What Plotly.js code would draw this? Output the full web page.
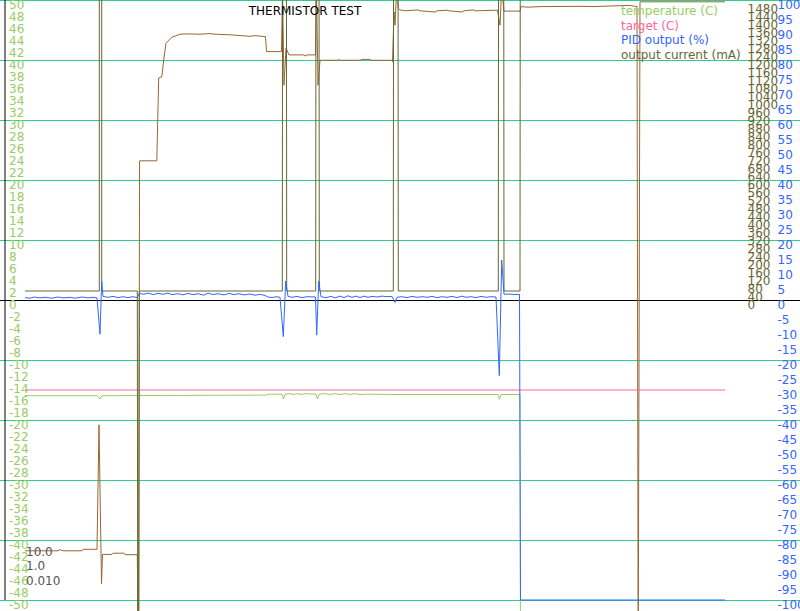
<!DOCTYPE html>
<html>
<head>
<meta charset="utf-8">
<script src="https://cdn.plot.ly/plotly-3.0.1.min.js"></script>
<style>
html,body{margin:0;padding:0;background:#fff;overflow:hidden;width:800px;height:611px;position:relative;}
#chart{position:absolute;left:0;top:-10px;width:820px;height:631px;}
</style>
</head>
<body>
<div id="chart"></div>
<script>
// ---- data (time in s) ----
var tempTime   = [0,25,27,72,75,77,112,114,241,243,257,258.5,260,265,268,272,276,280,291,292.5,294,300,305,310,315,320,325,330,335,340,350,370,372,400,473,474.5,476,495,495.5];
var tempValues = [-15.95,-15.9,-15.95,-15.95,-16.5,-15.95,-15.95,-15.85,-15.85,-15.7,-15.7,-16.5,-15.7,-15.6,-15.75,-15.6,-15.75,-15.6,-15.7,-16.5,-15.7,-15.6,-15.75,-15.6,-15.75,-15.6,-15.75,-15.6,-15.75,-15.7,-15.75,-15.85,-15.75,-15.75,-15.75,-16.55,-15.75,-15.75,-60];

var targetTime   = [0,700];
var targetValues = [-15,-15];

var sensorTime   = [0,33,35,38,57,58,72,74,76.5,77.5,87,88,99,100,112.3,113.4,114.6,131.8,133.7,136.8,138.7,141,147,155,162,175,185,190,205,220,225,230,240.5,241.5,256.5,257.5,259,261,264,279,280,282,290.5,291.5,293,295,313,314,315,335,337,345,346,367,367.5,369,370,371.7,373.3,375,380,393,395,410,412,422,424,437,439,448,450,472.5,475,476.7,479,495,496,503,512,515,557,568,604,612,613.2,615,700];
var sensorValues = [-41.8,-41.8,-41.6,-41.8,-41.8,-41.55,-41.55,-20.8,-47.3,-42.4,-42.4,-42.2,-42.2,-42.45,-42.45,-60,23.2,23.2,37.0,37.2,40.0,42.8,43.8,44.3,44.35,44.3,44.4,44.3,44.2,44.1,43.95,44.05,43.9,41.4,41.4,52,35.8,42.0,40.85,40.85,40.65,40.85,40.85,52,35.8,39.95,39.95,40.1,39.95,39.95,40.1,40.1,39.95,39.95,39.7,48.0,45.8,52,48.6,48.35,48.2,48.35,48.2,48.0,48.2,48.3,48.2,48.0,48.2,48.35,48.2,48.3,45.8,52,48.15,48.15,48.9,48.8,48.8,48.9,48.95,48.9,49.1,48.9,-60,49.7,49.7];

var pidTime   = [0,5,9,15,20,27,33,38,45,50,57,63,68,72,75,76.7,78,83,88,93,98,103,108,112,114.5,119,123,128,133,138,143,147,153,158,163,168,173,179,183,188,193,199,204,209,214,219,225,230,235,240,243,247,251,255,258.3,260.7,263,267,272,277,282,287,290.5,291.7,293.7,296,301,306,310,315,319,323,327,331,335,339,343,347,352,357,362,367,370,372,377,382,387,392,397,402,407,412,417,422,427,432,437,441,446,451,456,461,466,471,474.3,476.7,479,484,489,494.5,495.5,700];
var pidValues = [0.8,0.6,1.0,0.7,0.9,0.6,1.0,0.7,0.9,0.6,1.0,0.7,0.9,0.7,-11.4,6.3,1.2,0.9,1.2,0.8,1.1,0.8,1.1,0.8,2.2,1.9,2.3,1.8,2.2,1.9,2.3,1.8,2.1,1.7,2.2,1.8,2.1,1.6,2.3,1.8,2.1,1.7,2.2,1.8,2.1,1.7,2.0,1.6,1.9,1.5,1.0,0.8,1.1,0.9,-12.2,6.3,1.2,0.9,1.2,0.8,1.1,0.9,1.0,-11.7,6.3,1.1,0.8,1.2,0.7,1.3,0.8,1.4,0.9,1.3,0.8,1.3,0.9,1.2,1.0,1.3,1.1,1.2,-0.8,0.9,1.1,0.8,1.2,0.9,1.1,0.9,1.2,0.8,1.1,0.9,1.2,0.8,1.3,0.9,1.1,0.8,1.2,0.9,1.1,1.0,-25.2,13.3,1.9,2.0,1.8,1.9,-100,-100];

var currentTime   = [0,74.3,74.3,76.7,76.7,112.3,112.8,113.8,114.3,257.3,257.6,261.4,261.7,290.7,291,294,294.3,368.3,368.6,373,373.3,473.3,473.6,478.7,479,495,495.3,700];
var currentValues = [45,45,2000,2000,45,45,-2000,-2000,45,45,2000,2000,45,45,2000,2000,45,45,2000,2000,45,45,2000,2000,45,45,2000,2000];

// tick labels
var tempTicks = [];    for (var v=-50; v<=50; v+=2) tempTicks.push(v);
var pidTicks = [];     for (var p=-100; p<=100; p+=5) pidTicks.push(p);
var currentTicks = []; for (var c=0; c<=1480; c+=40) currentTicks.push(c);
var pidParams = ["10.0","1.0","0.010"];
var seriesNames = ["temperature (C)","target (C)","PID output (%)","output current (mA)"];

// ---- style / geometry ----
var C_TEMP='#99cc66', C_TARGET='#ff6699', C_PID='#3366ff', C_CUR='#666633', C_SENSOR='#996633', C_GRID='#2ecc8e';
var FONT='DejaVu Sans';
// the plot area is slightly larger than the 800x611 page so edge labels are not dropped
var W=820, H=631, TOP=10, SCALE_H=600;
var BOT = H - TOP - SCALE_H;
function ext(lo,hi){ var k=(hi-lo)/SCALE_H; return [lo-k*BOT, hi+k*TOP]; }
function px(x){ return x/W; }
function py(y){ return 1-(y+TOP)/H; }

var traces = [
  {x:currentTime, y:currentValues, yaxis:'y2', mode:'lines', line:{color:C_CUR,width:1}, name:seriesNames[3], hoverinfo:'skip'},
  {x:pidTime, y:pidValues, yaxis:'y3', mode:'lines', line:{color:C_PID,width:1}, name:seriesNames[2], hoverinfo:'skip'}
];
var tracesLeft = [
  {x:sensorTime, y:sensorValues, yaxis:'y', mode:'lines', line:{color:C_SENSOR,width:1}, name:'sensor', hoverinfo:'skip'},
  {x:tempTime, y:tempValues, yaxis:'y', mode:'lines', line:{color:C_TEMP,width:1}, name:seriesNames[0], hoverinfo:'skip'},
  {x:targetTime, y:targetValues, yaxis:'y', mode:'lines', line:{color:C_TARGET,width:1}, name:seriesNames[1], hoverinfo:'skip'}
];

function labelAxis(range, ticks, color, pos){
  return {range:range, anchor:'free', position:pos, side:'right', tickmode:'array',
    tickvals:ticks, ticktext:ticks.map(function(t){return String(t);}),
    tickfont:{family:FONT,size:12,color:color}, ticks:'', showgrid:false, zeroline:false,
    showline:false, ticklabelshift:5, fixedrange:true};
}

var layout = {
  width:W, height:H, margin:{l:0,r:0,t:0,b:0}, paper_bgcolor:'#fff', plot_bgcolor:'#fff',
  showlegend:false,
  font:{family:FONT,size:12,color:'#000'},
  title:{text:'THERMISTOR TEST', font:{family:FONT,size:12,color:'#000'}, x:px(305), xanchor:'center', xref:'paper', y:py(11), yanchor:'middle', yref:'container'},
  xaxis:{range:[-25,795], visible:false, fixedrange:true},
  yaxis: labelAxis(ext(-50,50), tempTicks, C_TEMP, px(8)),
  yaxis2: Object.assign(labelAxis(ext(-1500,1500), currentTicks, C_CUR, px(746.5)), {overlaying:'y'}),
  yaxis3: Object.assign(labelAxis(ext(-100,100), pidTicks, C_PID, px(776.5)), {overlaying:'y'}),
  yaxis4: {range:ext(-50,50), overlaying:'y', anchor:'free', position:0, side:'left', tickmode:'linear', tick0:0, dtick:10,
           showgrid:true, gridcolor:C_GRID, gridwidth:1, zeroline:true, zerolinecolor:'#000', zerolinewidth:1,
           showticklabels:false, ticks:'', showline:false, fixedrange:true},
  shapes:[{type:'line', xref:'paper', x0:px(5), x1:px(5), yref:'y', y0:-50, y1:50, line:{color:'#000',width:1}}],
  annotations:[]
};
var legendColors=[C_TEMP,C_TARGET,C_PID,C_CUR];
seriesNames.forEach(function(n,i){
  layout.annotations.push({text:n, xref:'paper', yref:'paper', x:px(620), xanchor:'left', y:py(11+14.7*i), yanchor:'middle',
    showarrow:false, font:{family:FONT,size:12,color:legendColors[i]}, borderpad:0});
});
pidParams.forEach(function(n,i){
  layout.annotations.push({text:n, xref:'paper', yref:'paper', x:px(25), xanchor:'left', y:py(551.5+14.7*i), yanchor:'middle',
    showarrow:false, font:{family:FONT,size:12,color:'#555'}, borderpad:0});
});
// grid axis needs a trace to exist
var gridTrace = {x:[null], y:[null], yaxis:'y4', mode:'lines', hoverinfo:'skip', showlegend:false};

Plotly.newPlot('chart', [gridTrace].concat(tracesLeft, traces), layout, {staticPlot:true, displayModeBar:false});
</script>
</body>
</html>
